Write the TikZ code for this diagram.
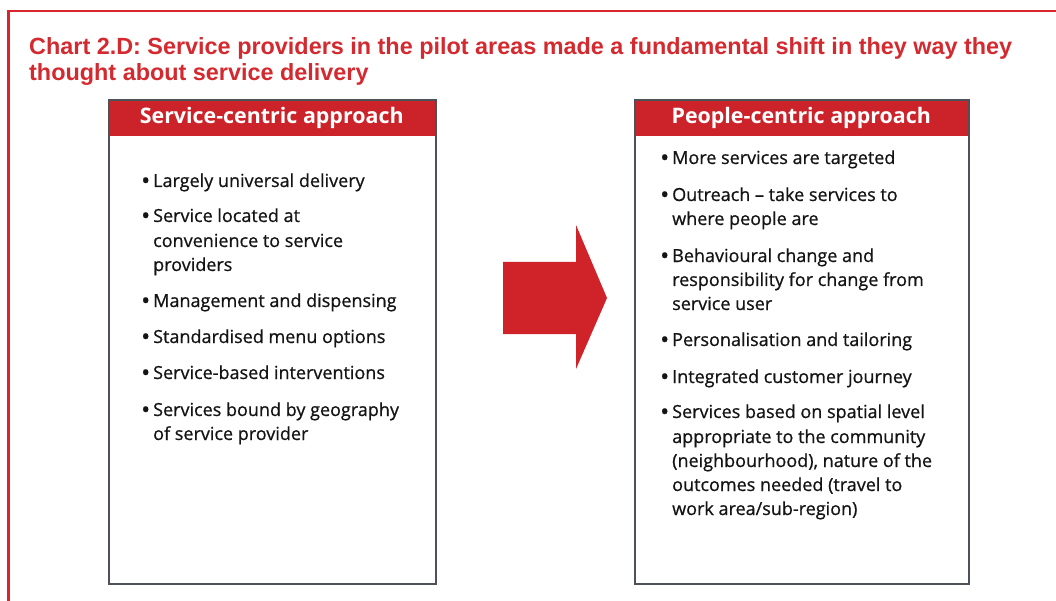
\documentclass[tikz,border=0pt]{standalone}
\usepackage{fontspec}
\setmainfont{Open Sans}
\newfontfamily\bodyfont[FakeBold=0.7]{Open Sans}
\newfontfamily\titlefont{Liberation Sans}
\definecolor{framered}{HTML}{D8262C}
\definecolor{titlered}{HTML}{D42A2F}
\definecolor{headred}{HTML}{CC2229}
\definecolor{panelgray}{HTML}{4E5258}
\definecolor{arrowred}{HTML}{CF2329}
\begin{document}
\begin{tikzpicture}[x=1pt,y=-1pt,
  frame/.style={draw=framered,line width=2.5pt},
  titleline/.style={anchor=base west,inner sep=0pt,text=titlered,
    font=\titlefont\bfseries\fontsize{23.4}{26}\selectfont},
  panel/.style={draw=panelgray,line width=1.6pt,anchor=north west,
    minimum width=327pt,minimum height=484pt,inner sep=0pt},
  header/.style={fill=headred,anchor=north west,minimum width=327pt,
    minimum height=37pt,inner sep=0pt,text=white,
    font=\bfseries\fontsize{21.4}{24}\selectfont},
  item/.style={anchor=base west,inner sep=0pt,
    font=\bodyfont\fontsize{18}{21}\selectfont,text=black!92},
  bulletmark/.style={anchor=base west,inner sep=0pt,
    font=\bodyfont\fontsize{24}{24}\selectfont,text=black!92}
]
\useasboundingbox (0,0) rectangle (1056,601);
\fill[white] (0,0) rectangle (1056,601);

% outer red frame, open to the right and bottom
\draw[frame] (8.5,620) -- (8.5,11) -- (1070,11);

% chart title
\node[titleline] (title1) at (29,55) {Chart 2.D: Service providers in the pilot areas made a fundamental shift in they way they};
\node[titleline] (title2) at (29,81) {thought about service delivery};

% left panel
\node[header] (lhead) at (108,99) {Service-centric approach};
\node[panel] (lbox) at (108,99) {};

% right panel
\node[header,minimum width=334pt] (rhead) at (634,99) {People-centric approach};
\node[panel,minimum width=334pt] (rbox) at (634,99) {};

% block arrow between the panels
\fill[arrowred] (503,262) -- (576,262) -- (576,225) -- (607,298)
  -- (576,369) -- (576,334) -- (503,334) -- cycle;

% left list
\foreach \n/\y/\t in {
  l1/187/{Largely universal delivery},
  l2/222/{Service located at},
  l3/247/{convenience to service},
  l4/271/{providers},
  l5/307/{Management and dispensing},
  l6/343/{Standardised menu options},
  l7/379/{Service-based interventions},
  l8/416/{Services bound by geography},
  l9/440/{of service provider}}
  \node[item] (\n) at (153,\y) {\t};
\foreach \n/\y in {lb1/187,lb2/222,lb5/307,lb6/343,lb7/379,lb8/416}
  \node[bulletmark] (\n) at (141,\y+2) {•};

% right list
\foreach \n/\y/\t in {
  r1/164/{More services are targeted},
  r2/201/{Outreach – take services to},
  r3/225/{where people are},
  r4/262/{Behavioural change and},
  r5/286/{responsibility for change from},
  r6/310/{service user},
  r7/346/{Personalisation and tailoring},
  r8/383/{Integrated customer journey},
  r9/418/{Services based on spatial level},
  r10/443/{appropriate to the community},
  r11/467/{(neighbourhood), nature of the},
  r12/491/{outcomes needed (travel to},
  r13/515/{work area/sub-region)}}
  \node[item] (\n) at (672,\y) {\t};
\foreach \n/\y in {rb1/164,rb2/201,rb4/262,rb7/346,rb8/383,rb9/418}
  \node[bulletmark] (\n) at (660,\y+2) {•};
\end{tikzpicture}
\end{document}
